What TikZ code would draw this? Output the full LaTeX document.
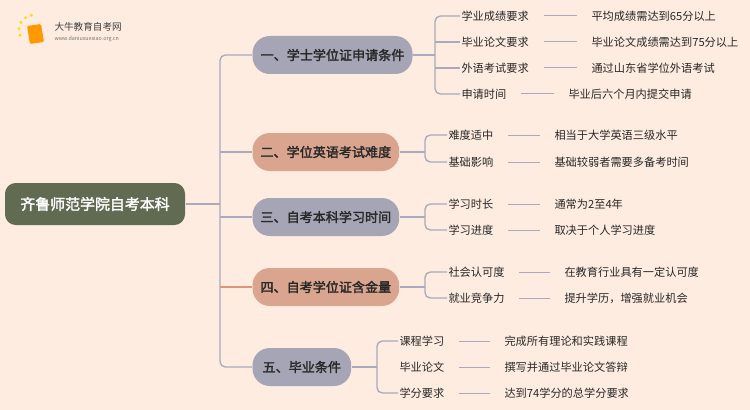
\documentclass[tikz,border=0pt]{standalone}
\usepackage{fontspec}
\setmainfont{Noto Sans CJK SC}
\newfontfamily\cjkbold[FakeBold=2]{Noto Sans CJK SC}
\definecolor{bgcol}{RGB}{253,236,223}
\definecolor{rootcol}{RGB}{96,107,82}
\definecolor{greycol}{RGB}{165,165,182}
\definecolor{salmoncol}{RGB}{217,165,142}
\definecolor{linecol}{RGB}{170,170,190}
\definecolor{orangeline}{RGB}{220,150,120}
\definecolor{textcol}{RGB}{40,40,40}
\tikzset{every picture/.style={line width=0.75pt}}
\tikzset{
  rootbox/.style={fill=rootcol,rounded corners=8pt,minimum width=135pt,minimum height=31.5pt,text=white,font=\cjkbold\fontsize{11.2}{11.2}\selectfont},
  topicbox/.style={rounded corners=13pt,minimum height=28.5pt,anchor=west,text=textcol,font=\cjkbold\fontsize{9.8}{9.8}\selectfont,inner xsep=6pt},
  leaf/.style={anchor=west,inner sep=0.75pt,text=textcol,font=\fontsize{8.4}{8.4}\selectfont},
  link/.style={draw=linecol,line width=1pt,rounded corners=4pt}
}
\begin{document}
\begin{tikzpicture}[x=0.75pt,y=0.75pt,yscale=-1,xscale=1]
\fill[bgcol] (0,0) rectangle (750,410);
\useasboundingbox (0,0) rectangle (750,410);

% logo
\fill[orange!80!yellow,rounded corners=1pt] (27,26) -- (41,24) -- (44,42) -- (30,44) -- cycle;
\foreach \a in {100,125,150,175,200}
  \fill[yellow!80!orange] ({34+15*cos(\a)},{30-15*sin(\a)}) circle (1.6);
\node[anchor=west,inner sep=0pt,font=\fontsize{7.2}{7.2}\selectfont,text=black!75] (logo) at (54,27) {大牛教育自考网};
\node[anchor=west,inner sep=0pt,font=\fontsize{4}{4}\selectfont,text=black!55] (url) at (54,39) {www.daniuxuexiao.org.cn};

% root
\node[rootbox] (root) at (95,204) {齐鲁师范学院自考本科};

% topics
\node[topicbox,fill=greycol,minimum width=120pt] (t1) at (252,55) {一、学士学位证申请条件};
\node[topicbox,fill=salmoncol,minimum width=110pt] (t2) at (252,152) {二、学位英语考试难度};
\node[topicbox,fill=greycol,minimum width=110pt] (t3) at (252,217) {三、自考本科学习时间};
\node[topicbox,fill=salmoncol,minimum width=110pt] (t4) at (252,287) {四、自考学位证含金量};
\node[topicbox,fill=greycol,minimum width=74pt] (t5) at (252,367) {五、毕业条件};

% spine
\draw[link] (root.east) -- (220,204);
\draw[link] (t1.west) -- (220,55) -- (220,367) -- (t5.west);
\draw[link] (220,152) -- (t2.west);
\draw[link] (220,217) -- (t3.west);
\draw[link,draw=orangeline] (220,287) -- (t4.west);

% leaves of t1
\node[leaf] (a1) at (460,16) {学业成绩要求};
\node[leaf] (a2) at (460,42) {毕业论文要求};
\node[leaf] (a3) at (460,68) {外语考试要求};
\node[leaf] (a4) at (460,94) {申请时间};
\node[leaf] (b1) at (590,16) {平均成绩需达到65分以上};
\node[leaf] (b2) at (590,42) {毕业论文成绩需达到75分以上};
\node[leaf] (b3) at (590,68) {通过山东省学位外语考试};
\node[leaf] (b4) at (567,94) {毕业后六个月内提交申请};
\draw[link] (t1.east) -- (435,55);
\draw[link] (a1.west) -- (435,16) -- (435,94) -- (a4.west);
\draw[link] (435,42) -- (a2.west);
\draw[link] (435,68) -- (a3.west);
\foreach \i in {1,2,3,4} \draw[draw=linecol] ([xshift=10]a\i.east) -- ([xshift=-10]b\i.west);

% leaves of t2
\node[leaf] (c1) at (447,135) {难度适中};
\node[leaf] (c2) at (447,162) {基础影响};
\node[leaf] (d1) at (553,135) {相当于大学英语三级水平};
\node[leaf] (d2) at (553,162) {基础较弱者需要多备考时间};
\draw[link] (t2.east) -- (425,152);
\draw[link] (c1.west) -- (425,135) -- (425,162) -- (c2.west);

% leaves of t3
\node[leaf] (e1) at (447,204) {学习时长};
\node[leaf] (e2) at (447,230) {学习进度};
\node[leaf] (f1) at (553,204) {通常为2至4年};
\node[leaf] (f2) at (553,230) {取决于个人学习进度};
\draw[link] (t3.east) -- (425,217);
\draw[link] (e1.west) -- (425,204) -- (425,230) -- (e2.west);

% leaves of t4
\node[leaf] (g1) at (447,272) {社会认可度};
\node[leaf] (g2) at (447,298) {就业竞争力};
\node[leaf] (h1) at (563,272) {在教育行业具有一定认可度};
\node[leaf] (h2) at (563,298) {提升学历，增强就业机会};
\draw[link] (t4.east) -- (425,287);
\draw[link] (g1.west) -- (425,272) -- (425,298) -- (g2.west);

% leaves of t5
\node[leaf] (k1) at (398,341) {课程学习};
\node[leaf] (k2) at (398,367) {毕业论文};
\node[leaf] (k3) at (398,393) {学分要求};
\node[leaf] (m1) at (503,341) {完成所有理论和实践课程};
\node[leaf] (m2) at (503,367) {撰写并通过毕业论文答辩};
\node[leaf] (m3) at (503,393) {达到74学分的总学分要求};
\draw[link] (t5.east) -- (377,367);
\draw[link] (k1.west) -- (377,341) -- (377,393) -- (k3.west);

\foreach \p/\q in {c1/d1,c2/d2,e1/f1,e2/f2,g1/h1,g2/h2,k1/m1,k2/m2,k3/m3}
  \draw[draw=linecol] ([xshift=10]\p.east) -- ([xshift=-10]\q.west);
\end{tikzpicture}
\end{document}
